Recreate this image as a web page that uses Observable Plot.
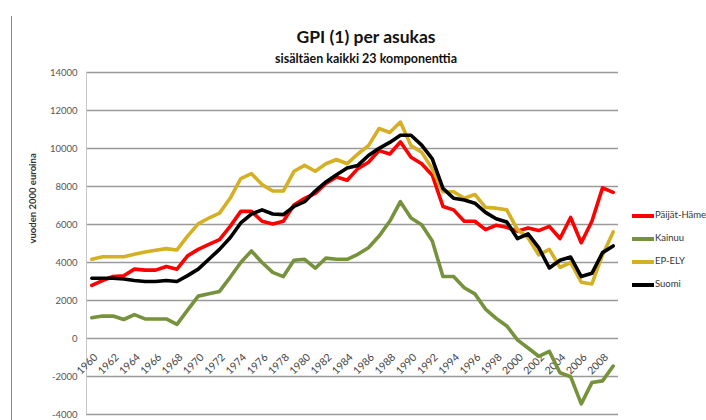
<!DOCTYPE html>
<html>
<head>
<meta charset="utf-8">
<script src="https://cdn.jsdelivr.net/npm/d3@7"></script>
<script src="https://cdn.jsdelivr.net/npm/@observablehq/plot@0.6"></script>
<style>
  html, body { margin: 0; padding: 0; background: #fff; }
  #wrap { position: relative; width: 706px; height: 420px; overflow: hidden; font-family: Lato, "Open Sans", sans-serif; }
  #frame { position: absolute; left: 11px; top: 16px; width: 0; height: 404px; border-left: 1px solid #888; }
  #head { position: relative; height: 68px; }
  #title { position: absolute; left: 0; width: 732px; top: 26px; text-align: center; font-size: 17.5px; font-weight: bold; color: #111; }
  #subtitle { position: absolute; left: 0; width: 732px; top: 51px; text-align: center; font-size: 12.5px; font-weight: bold; color: #111; }
  #legend { position: absolute; left: 632px; top: 206px; font-size: 9.5px; color: #333; white-space: nowrap; }
  .item { position: relative; height: 23px; line-height: 18px; }
  .sw { display: inline-block; width: 22px; height: 4px; vertical-align: middle; margin-right: 1px; }
</style>
</head>
<body>
<div id="wrap">
  <div id="frame"></div>
  <div id="head">
    <div id="title">GPI (1) per asukas</div>
    <div id="subtitle">sisältäen kaikki 23 komponenttia</div>
  </div>
  <div id="chart"></div>
  <div id="legend"></div>
</div>
<script>
const years = d3.range(1960, 2010);
const seriesNames = ["Päijät-Häme", "Kainuu", "EP-ELY", "Suomi"];
const seriesColors = ["#ff0000", "#76923c", "#d6b024", "#000000"];
const yTicks = [-4000, -2000, 0, 2000, 4000, 6000, 8000, 10000, 12000, 14000];
const xTickYears = d3.range(1960, 2010, 2);

const paijatHame = [2790, 3050, 3260, 3300, 3650, 3600, 3600, 3790, 3650, 4350,
  4690, 4950, 5200, 5900, 6690, 6690, 6170, 6030, 6170, 7030,
  7380, 7640, 8160, 8500, 8330, 8940, 9280, 9890, 9710, 10350,
  9540, 9200, 8590, 6950, 6770, 6170, 6170, 5730, 5960, 5850,
  5650, 5820, 5680, 5900, 5260, 6370, 5040, 6170, 7930, 7690];
const kainuu = [1090, 1180, 1180, 1000, 1260, 1030, 1030, 1030, 745, 1490,
  2230, 2350, 2480, 3220, 4000, 4610, 4000, 3480, 3260, 4120,
  4170, 3700, 4230, 4170, 4170, 4430, 4780, 5390, 6170, 7200,
  6340, 5990, 5130, 3260, 3260, 2670, 2350, 1550, 1060, 660,
  -70, -500, -935, -675, -1800, -2010, -3440, -2320, -2230, -1450];
const epEly = [4170, 4300, 4300, 4300, 4430, 4555, 4640, 4730, 4660, 5390,
  6030, 6340, 6600, 7380, 8420, 8680, 8100, 7760, 7760, 8800,
  9110, 8800, 9200, 9420, 9200, 9710, 10150, 11050, 10840, 11390,
  10150, 9800, 8940, 7720, 7720, 7380, 7580, 6900, 6860, 6770,
  5730, 5300, 4400, 4690, 3740, 4000, 2960, 2870, 4400, 5610];
const suomi = [3170, 3170, 3170, 3130, 3050, 3000, 3000, 3050, 3000, 3310,
  3650, 4170, 4690, 5300, 6080, 6550, 6770, 6550, 6520, 6950,
  7200, 7760, 8240, 8620, 8970, 9110, 9630, 10010, 10320, 10700,
  10700, 10180, 9450, 7900, 7380, 7290, 7120, 6640, 6300, 6130,
  5260, 5510, 4780, 3710, 4120, 4290, 3260, 3430, 4520, 4870];

const valuesBySeries = [paijatHame, kainuu, epEly, suomi];
const rows = [];
seriesNames.forEach((name, s) => {
  years.forEach((yr, i) => rows.push({year: yr, value: valuesBySeries[s][i], series: name}));
});

const chart = Plot.plot({
  width: 706,
  height: 352,
  marginLeft: 86,
  marginRight: 88,
  marginTop: 4,
  marginBottom: 6,
  style: {fontFamily: "Lato, 'Open Sans', sans-serif", background: "#fff"},
  x: {domain: [1959.5, 2009.5], axis: null},
  y: {domain: [-4000, 14000], axis: null},
  color: {domain: seriesNames, range: seriesColors},
  marks: [
    Plot.ruleY(yTicks, {stroke: "#9a9a9a", strokeWidth: 1.3}),
    Plot.ruleX([1959.5], {y1: -4000, y2: 14000, stroke: "#c8c8c8", strokeWidth: 1}),
    Plot.axisY(yTicks, {label: null, tickSize: 0, tickPadding: 9, fontSize: 9.5, fill: "#555", tickFormat: d => String(d)}),
    Plot.text(xTickYears, {x: d => d, y: 0, text: d => String(d), rotate: -45, textAnchor: "end", dx: 4, dy: 17, fontSize: 10.5, fill: "#444"}),
    Plot.text(["vuoden 2000 euroina"], {frameAnchor: "left", dx: -54, rotate: -90, fontSize: 9.5, fontWeight: "bold", fill: "#333"}),
    Plot.line(rows, {x: "year", y: "value", z: "series", stroke: "series", strokeWidth: 3.6, strokeLinejoin: "round"})
  ]
});
document.getElementById("chart").appendChild(chart);

const legend = document.getElementById("legend");
seriesNames.forEach((name, i) => {
  const div = document.createElement("div");
  div.className = "item";
  const sw = document.createElement("span");
  sw.className = "sw";
  sw.style.background = seriesColors[i];
  div.appendChild(sw);
  div.appendChild(document.createTextNode(name));
  legend.appendChild(div);
});
</script>
</body>
</html>
